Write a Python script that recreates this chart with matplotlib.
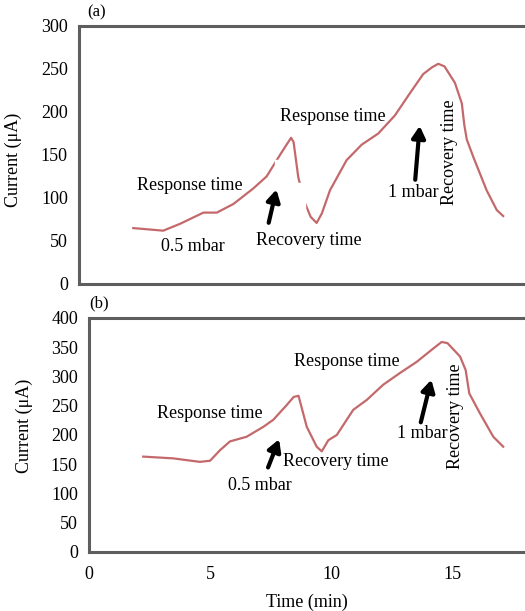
import matplotlib
matplotlib.use("Agg")
from matplotlib import pyplot as plt
from matplotlib.patches import Rectangle

plt.rcParams['font.family'] = ['Liberation Serif', 'DejaVu Serif']

# Panel (a): time (min) and current (uA)
t_a = [2.19, 3.40, 4.08, 5.02, 5.56, 6.23, 7.03, 7.57, 8.11, 8.40, 8.56, 8.66,
       8.85, 9.12, 9.35, 9.59, 9.80, 10.13, 10.80, 11.41, 12.08, 12.75, 13.36,
       13.89, 14.25, 14.50, 14.75, 15.17, 15.45, 15.55, 15.65, 15.91, 16.45,
       16.86, 17.12]
i_a = [65, 62, 70, 83, 83, 93, 111, 125, 150, 163, 170, 165,
       124, 94, 78, 71, 82, 109, 144, 162, 175, 196, 222,
       244, 252, 256, 253, 234, 210, 185, 168, 148, 109,
       86, 79]

# Panel (b)
t_b = [2.24, 3.48, 4.58, 5.00, 5.41, 5.82, 6.51, 7.20, 7.61, 8.16, 8.45, 8.65,
       8.99, 9.40, 9.61, 9.88, 10.23, 10.91, 11.47, 12.15, 12.84, 13.53, 14.22,
       14.56, 14.80, 15.32, 15.55, 15.70, 16.14, 16.69, 17.10]
i_b = [163, 160, 154, 156, 174, 189, 197, 214, 226, 251, 265, 267,
       214, 180, 172, 191, 200, 243, 260, 286, 306, 325, 348,
       359, 357, 334, 311, 271, 237, 197, 180]

line_col = '#c4696b'
spine_col = '#5e5e5e'

fig = plt.figure(figsize=(5.25, 6.11), dpi=100)
ax_a = fig.add_axes([0.1505, 0.5352, 0.8495, 0.4223])
ax_b = fig.add_axes([0.1695, 0.0966, 0.8305, 0.383])


def style_axes(ax, ymax, show_x):
    ax.set_xlim(0, 18)
    ax.set_ylim(0, ymax)
    ax.set_yticks(range(0, ymax + 1, 50))
    ax.set_xticks([0, 5, 10, 15])
    if not show_x:
        ax.set_xticklabels([])
    for s in ['left', 'bottom', 'top']:
        ax.spines[s].set_color(spine_col)
        ax.spines[s].set_linewidth(2.2)
    ax.spines['right'].set_visible(False)
    ax.tick_params(length=0, labelsize=13, pad=8)
    ax.tick_params(axis='x', pad=10)


style_axes(ax_a, 300, False)
style_axes(ax_b, 400, True)

ax_a.plot(t_a, i_a, color=line_col, lw=1.6, zorder=2)
ax_b.plot(t_b, i_b, color=line_col, lw=1.6, zorder=2)

# white patches over the curve, as in the original figure
ax_a.add_patch(Rectangle((7.91, 117), 0.62, 27, color='white', zorder=3))
ax_a.add_patch(Rectangle((8.11, 63), 1.0, 55, color='white', zorder=3))

fs = 13
ax_a.set_ylabel('Current (\u03bcA)', fontsize=13)
ax_a.yaxis.set_label_coords(-0.128, 0.48)
ax_b.set_ylabel('Current (\u03bcA)', fontsize=13)
ax_b.yaxis.set_label_coords(-0.128, 0.54)
ax_b.set_xlabel('Time (min)', fontsize=13, labelpad=8)

fig.text(87 / 525, 1 - 12 / 611, '(a)', fontsize=12, ha='left', va='center')
fig.text(89 / 525, 1 - 303 / 611, '(b)', fontsize=12, ha='left', va='center')

arr = dict(arrowstyle='-|>,head_length=0.7,head_width=0.4', color='black', lw=3)

# annotations panel (a)
ax_a.text(2.34, 115, 'Response time', fontsize=fs, va='center', zorder=4)
ax_a.text(3.31, 44, '0.5 mbar', fontsize=fs, va='center', zorder=4)
ax_a.text(7.14, 50, 'Recovery time', fontsize=fs, va='center', zorder=4)
ax_a.text(8.11, 195, 'Response time', fontsize=fs, va='center', zorder=4)
ax_a.text(12.47, 106, '1 mbar', fontsize=fs, va='center', zorder=4)
ax_a.text(14.97, 153, 'Recovery time', fontsize=fs, va='center', ha='center',
          rotation=90, zorder=4)
ax_a.annotate('', xy=(7.99, 113), xytext=(7.63, 68), arrowprops=arr, zorder=4)
ax_a.annotate('', xy=(13.76, 187), xytext=(13.56, 118), arrowprops=arr, zorder=4)

# annotations panel (b)
ax_b.text(2.81, 236, 'Response time', fontsize=fs, va='center', zorder=4)
ax_b.text(8.01, 154, 'Recovery time', fontsize=fs, va='center', zorder=4)
ax_b.text(5.74, 113, '0.5 mbar', fontsize=fs, va='center', zorder=4)
ax_b.text(8.46, 325, 'Response time', fontsize=fs, va='center', zorder=4)
ax_b.text(12.72, 202, '1 mbar', fontsize=fs, va='center', zorder=4)
ax_b.text(15.12, 232, 'Recovery time', fontsize=fs, va='center', ha='center',
          rotation=90, zorder=4)
ax_b.annotate('', xy=(7.89, 197), xytext=(7.35, 140), arrowprops=arr, zorder=4)
ax_b.annotate('', xy=(14.16, 299), xytext=(13.67, 217), arrowprops=arr, zorder=4)

fig.savefig('out.png', dpi=100)
